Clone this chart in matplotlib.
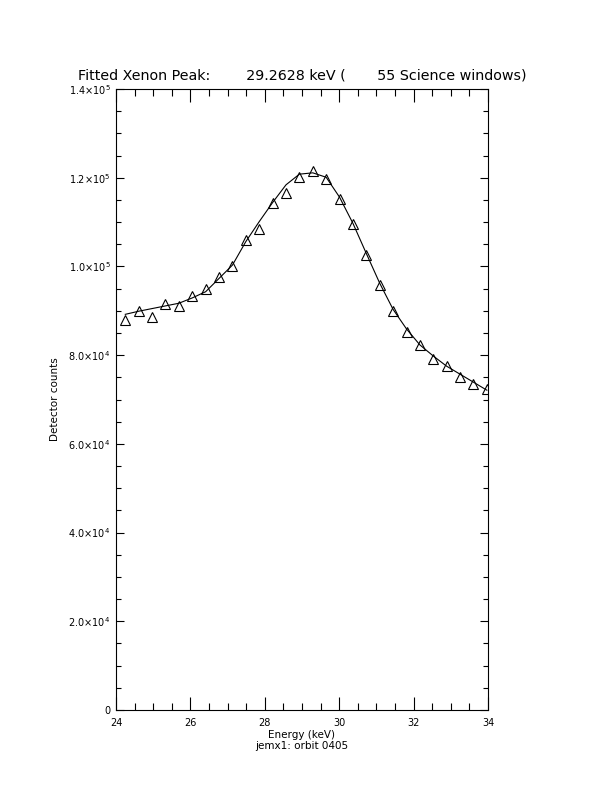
import matplotlib
matplotlib.use("Agg")
import matplotlib.pyplot as plt
from matplotlib.ticker import MultipleLocator

energy = [24.25, 24.61, 24.97, 25.33, 25.69, 26.05, 26.41, 26.77, 27.13, 27.49,
          27.85, 28.21, 28.57, 28.93, 29.29, 29.65, 30.01, 30.37, 30.73, 31.09,
          31.45, 31.81, 32.17, 32.53, 32.89, 33.25, 33.61, 33.97]
counts = [87900, 90000, 88500, 91600, 91100, 93400, 94800, 97700, 100200, 106000,
          108400, 114400, 116500, 120100, 121600, 119800, 115200, 109600, 102600, 95900,
          90000, 85200, 82200, 79100, 77500, 75100, 73600, 72300]
fit = [89200, 89900, 90500, 91100, 91700, 92900, 94300, 97300, 100300, 105600,
       110100, 114400, 118400, 120800, 121100, 120100, 115600, 109700, 102900, 96200,
       90300, 85900, 82300, 79800, 77500, 75700, 73900, 72100]

xticks = [24, 26, 28, 30, 32, 34]
yticks = [0, 20000, 40000, 60000, 80000, 100000, 120000, 140000]
ytick_labels = ["0", r"2.0$\times$10$^4$", r"4.0$\times$10$^4$", r"6.0$\times$10$^4$",
                r"8.0$\times$10$^4$", r"1.0$\times$10$^5$", r"1.2$\times$10$^5$",
                r"1.4$\times$10$^5$"]

plt.rcParams['font.family'] = ['DejaVu Sans']
plt.rcParams['mathtext.fontset'] = 'dejavusans'

fig = plt.figure(figsize=(6.12, 7.92), dpi=100)
ax = fig.add_axes([116/612, 82/792, 372/612, 621/792])

ax.plot(energy, fit, color='black', lw=0.8)
ax.plot(energy, counts, linestyle='none', marker='^', markersize=6.5,
        markerfacecolor='none', markeredgecolor='black', markeredgewidth=0.8)

ax.set_xlim(24, 34)
ax.set_ylim(0, 140000)
ax.set_xticks(xticks)
ax.set_xticklabels([str(t) for t in xticks], fontsize=7)
ax.set_yticks(yticks)
ax.set_yticklabels(ytick_labels, fontsize=7)
ax.xaxis.set_minor_locator(MultipleLocator(0.5))
ax.yaxis.set_minor_locator(MultipleLocator(5000))

ax.tick_params(axis='x', which='major', direction='in', length=9.5, width=0.8,
               top=True, bottom=True, pad=6)
ax.tick_params(axis='x', which='minor', direction='in', length=5, width=0.8,
               top=True, bottom=True)
ax.tick_params(axis='y', which='major', direction='in', length=6, width=0.8,
               left=True, right=True, pad=4)
ax.tick_params(axis='y', which='minor', direction='in', length=3.6, width=0.8,
               left=True, right=True)
for s in ax.spines.values():
    s.set_linewidth(0.8)

ax.set_xlabel("Energy (keV)\njemx1: orbit 0405", fontsize=7.5, labelpad=1,
              linespacing=1.15)
ax.set_ylabel("Detector counts", fontsize=7.5, labelpad=6)
ax.set_title("Fitted Xenon Peak:        29.2628 keV (       55 Science windows)",
             fontsize=10.3, pad=7)

fig.savefig("out.png", dpi=100, facecolor='white')
